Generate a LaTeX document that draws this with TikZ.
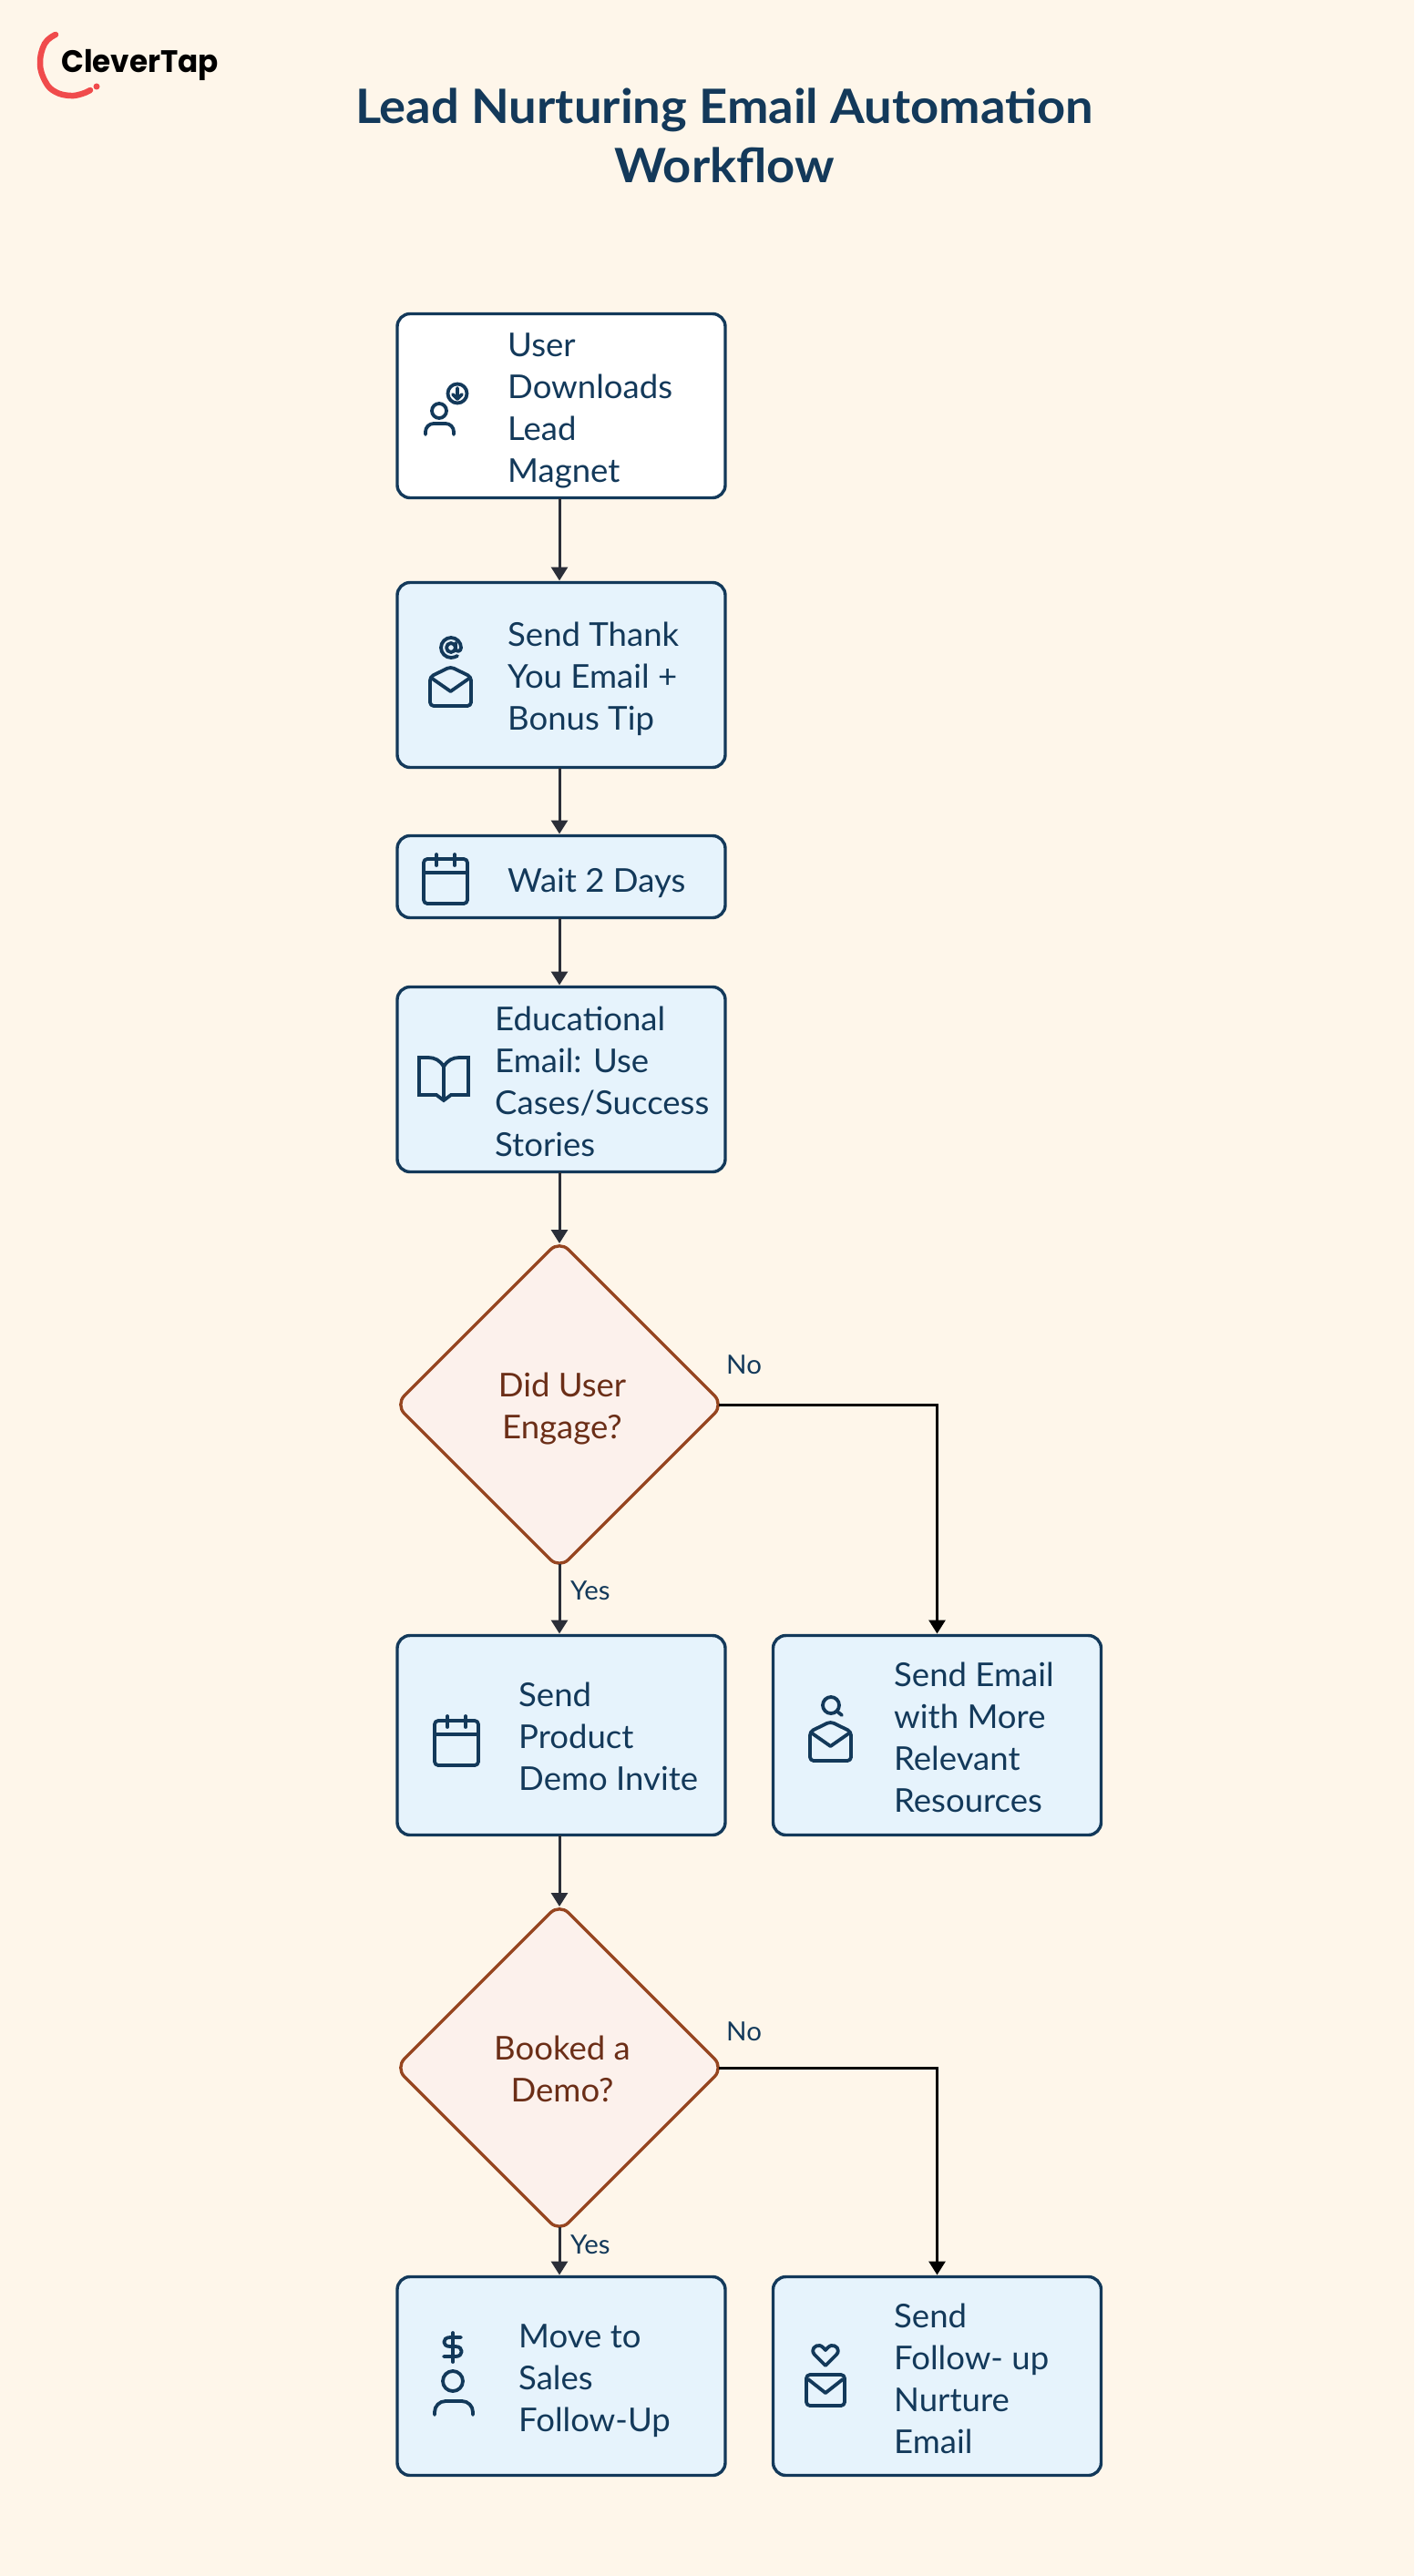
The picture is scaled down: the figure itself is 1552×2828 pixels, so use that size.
\documentclass[tikz,border=0pt]{standalone}
\usepackage{fontspec}
\setmainfont{Lato}[FakeStretch=1.015]
\newfontfamily\titlefont{Lato}[FakeStretch=1.045]
\newfontfamily\logofont{Poppins}[FakeStretch=0.96]
\usetikzlibrary{arrows.meta,shapes.geometric}
\definecolor{pagebg}{HTML}{FEF6EA}
\definecolor{ink}{HTML}{13395A}
\definecolor{boxfill}{HTML}{E6F3FC}
\definecolor{diafill}{HTML}{FCF1EC}
\definecolor{diaedge}{HTML}{964520}
\definecolor{diatext}{HTML}{6B2E17}
\definecolor{arrowgrey}{HTML}{2A2E38}
\definecolor{logored}{HTML}{F04B4C}
\tikzset{
  flowbox/.style={shape=rectangle,draw=ink,fill=boxfill,line width=3.4pt,rounded corners=14pt,
    minimum width=360pt,inner sep=0pt,outer sep=0pt},
  decision/.style={shape=diamond,aspect=1,draw=diaedge,fill=diafill,line width=3.4pt,rounded corners=14pt,
    minimum width=360pt,minimum height=360pt,inner sep=0pt,outer sep=0pt},
  boxtext/.style={anchor=base west,align=left,inner sep=0pt,text=ink,font=\fontsize{36}{46}\selectfont},
  diatxt/.style={anchor=base,align=center,inner sep=0pt,text=diatext,font=\fontsize{36}{46}\selectfont},
  edgelabel/.style={anchor=base west,inner sep=0pt,text=ink,font=\fontsize{29}{34}\selectfont},
  flow/.style={draw=arrowgrey,line width=3pt,-{Triangle[width=18pt,length=15pt]}},
  noflow/.style={draw=black,line width=3pt,-{Triangle[width=18pt,length=15pt]}},
  icon/.style={draw=ink,line width=3.8pt,line cap=round,line join=round},
  calicon/.pic={
    \draw[icon,rounded corners=4pt] (0,0) rectangle (48,49);
    \draw[icon] (0,15) -- (48,15) (14,-5) -- (14,7) (34,-5) -- (34,7);
  },
  openenv/.pic={
    \draw[icon,rounded corners=4pt] (0,11) -- (22.5,0) -- (45,11) -- (45,43) -- (0,43) -- cycle;
    \draw[icon] (1,12) -- (22.5,27) -- (44,12);
  }
}
\begin{document}
\begin{tikzpicture}[x=1pt,y=-1pt]
\fill[pagebg] (0,0) rectangle (1552,2828);
\useasboundingbox (0,0) rectangle (1552,2828);
% logo
\draw[draw=logored,line width=6.5pt,line cap=round]
  plot[smooth,tension=0.7] coordinates {(61,38) (49,48) (44,70) (50,90) (61,101) (77,105) (90,103) (99,99)};
\fill[logored] (106,95) circle[radius=3.5];
\node[anchor=base west,inner sep=0pt,text=black,font=\logofont\fontsize{34}{40}\selectfont\bfseries] (logotext) at (67,80) {CleverTap};
% title
\node[anchor=base,align=center,inner sep=0pt,text=ink,font=\titlefont\fontsize{52}{65}\selectfont\bfseries] (title) at (795,201) {Lead Nurturing Email Automation\\Workflow};
% boxes
\node[flowbox,fill=white,minimum height=202pt] (b1) at (616,445.5) {};
\node[flowbox,minimum height=203pt] (b2) at (616,741) {};
\node[flowbox,minimum height=90pt] (b3) at (616,962.5) {};
\node[flowbox,minimum height=203pt] (b4) at (616,1185) {};
\node[decision] (d1) at (614,1542) {};
\node[flowbox,minimum height=219pt] (b5) at (616,1905) {};
\node[flowbox,minimum height=219pt] (b6) at (1028.5,1905) {};
\node[decision] (d2) at (614,2270) {};
\node[flowbox,minimum height=218pt] (b7) at (616,2608.5) {};
\node[flowbox,minimum height=218pt] (b8) at (1028.5,2608.5) {};
% texts
\node[boxtext] (t1) at (557,529) {User\\Downloads\\Lead\\Magnet};
\node[boxtext] (t2) at (557,801) {Send Thank\\You Email +\\Bonus Tip};
\node[boxtext] (t3) at (557,979) {Wait 2 Days};
\node[boxtext] (t4) at (543,1269) {Educational\\Email: Use\\Cases/Success\\Stories};
\node[diatxt] (t5) at (617,1579) {Did User\\Engage?};
\node[boxtext] (t6) at (569,1965) {Send\\Product\\Demo Invite};
\node[boxtext] (t7) at (981,1989) {Send Email\\with More\\Relevant\\Resources};
\node[diatxt] (t8) at (617,2307) {Booked a\\Demo?};
\node[boxtext] (t9) at (569,2669) {Move to\\Sales\\Follow-Up};
\node[boxtext] (t10) at (981,2693) {Send\\Follow- up\\Nurture\\Email};
% connectors
\draw[flow,shorten >=2pt] ([xshift=-2pt]b1.south) -- ([xshift=-2pt]b2.north);
\draw[flow,shorten >=2pt] ([xshift=-2pt]b2.south) -- ([xshift=-2pt]b3.north);
\draw[flow,shorten >=2pt] ([xshift=-2pt]b3.south) -- ([xshift=-2pt]b4.north);
\draw[flow,shorten >=-3pt] ([xshift=-2pt]b4.south) -- (d1.north);
\draw[flow,shorten <=-5pt,shorten >=2pt] (d1.south) -- ([xshift=-2pt]b5.north);
\draw[noflow,shorten <=-5pt,shorten >=2pt] (d1.east) -| (b6.north);
\draw[flow,shorten >=-3pt] ([xshift=-2pt]b5.south) -- (d2.north);
\draw[flow,shorten <=-5pt,shorten >=2pt] (d2.south) -- ([xshift=-2pt]b7.north);
\draw[noflow,shorten <=-5pt,shorten >=2pt] (d2.east) -| (b8.north);
% edge labels
\node[edgelabel] (no1) at (797,1508) {No};
\node[edgelabel] (yes1) at (626,1756) {Yes};
\node[edgelabel] (no2) at (797,2240) {No};
\node[edgelabel] (yes2) at (626,2474) {Yes};
% icon: user download
\draw[icon] (482,451) circle[radius=8];
\draw[icon,rounded corners=9pt] (467,477) -- (467,465) -- (498,465) -- (498,477);
\draw[icon] (502,432) circle[radius=10.5];
\draw[icon] (502,426) -- (502,438) (497,433) -- (502,438) -- (507,433);
% icon: @ envelope
\begin{scope}[shift={(495,711)}]
\draw[icon] (0,0) circle[radius=5];
\draw[icon] (5,-5) -- (5,1) .. controls (5,5) and (11,5) .. (11,0) .. controls (11,-6) and (6,-11) .. (0,-11)
  .. controls (-6,-11) and (-11,-6) .. (-11,0) .. controls (-11,6) and (-6,11) .. (0,11) .. controls (3,11) and (5,10) .. (7,9);
\end{scope}
\pic at (472,732) {openenv};
% icon: calendars
\pic at (465,943) {calicon};
\pic at (477,1889) {calicon};
% icon: book
\draw[icon,line join=miter] (487,1171) .. controls (483,1164) and (477,1161) .. (470,1161) -- (460,1161) -- (460,1202) -- (479,1202) -- (487,1208) -- (495,1202) -- (514,1202) -- (514,1161) -- (504,1161) .. controls (497,1161) and (491,1164) .. (487,1171) -- (487,1208);
% icon: search envelope
\draw[icon] (912,1872) circle[radius=9];
\draw[icon] (919,1879) -- (924,1883);
\pic at (889,1890) {openenv};
% icon: dollar person
\draw[icon] (497,2561) -- (497,2593);
\draw[icon] (506,2566) -- (494,2566) .. controls (485,2566) and (485,2576) .. (494,2576) -- (500,2576) .. controls (509,2576) and (509,2587) .. (500,2587) -- (487,2587);
\draw[icon] (497,2614) circle[radius=11];
\draw[icon,rounded corners=12pt] (477,2651) -- (477,2636) -- (519,2636) -- (519,2651);
% icon: heart envelope
\draw[icon] (906,2597) -- (894,2585) .. controls (889,2579) and (895,2574) .. (900,2575) .. controls (903,2576) and (906,2580) .. (906,2580) .. controls (906,2580) and (909,2576) .. (912,2575) .. controls (917,2574) and (923,2579) .. (918,2585) -- cycle;
\draw[icon,rounded corners=4pt] (885,2607) rectangle (927,2641);
\draw[icon] (887,2612) -- (906,2627) -- (925,2612);
\end{tikzpicture}
\end{document}
